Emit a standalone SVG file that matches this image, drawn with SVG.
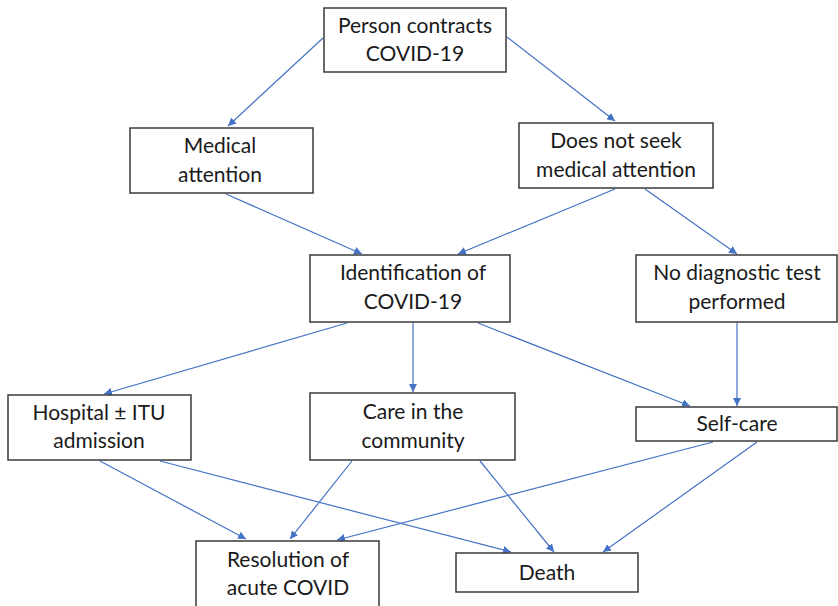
<svg xmlns="http://www.w3.org/2000/svg" width="838" height="606" viewBox="0 0 838 606">
<style>
.box{fill:#fff;stroke:#3a3a3a;stroke-width:1.5}
.t{font-family:Lato,"Liberation Sans",sans-serif;font-size:21px;fill:#1a1a1a;text-anchor:middle}
.c{stroke:#4472c4;stroke-width:1.2;fill:none;marker-end:url(#ah)}
</style>
<defs>
<marker id="ah" viewBox="0 0 10 10" refX="10" refY="5" markerWidth="8" markerHeight="8" markerUnits="userSpaceOnUse" orient="auto">
<path d="M0,0 L10,5 L0,10 z" fill="#4472c4"/>
</marker>
</defs>
<rect width="838" height="606" fill="#fff"/>
<g id="connectors">
<line class="c" x1="323" y1="38" x2="228" y2="126"/>
<line class="c" x1="507" y1="37" x2="615" y2="121"/>
<line class="c" x1="226" y1="194" x2="362" y2="254"/>
<line class="c" x1="615" y1="189" x2="458" y2="254"/>
<line class="c" x1="645" y1="189" x2="737" y2="254"/>
<line class="c" x1="347" y1="323" x2="104" y2="394"/>
<line class="c" x1="413" y1="323" x2="413" y2="392"/>
<line class="c" x1="478" y1="323" x2="690" y2="406"/>
<line class="c" x1="737" y1="323" x2="737" y2="406"/>
<line class="c" x1="100" y1="461" x2="246" y2="539"/>
<line class="c" x1="160" y1="461" x2="511" y2="552"/>
<line class="c" x1="352" y1="461" x2="290" y2="539"/>
<line class="c" x1="480" y1="461" x2="554" y2="552"/>
<line class="c" x1="713" y1="442" x2="337" y2="540"/>
<line class="c" x1="757" y1="442" x2="603" y2="552"/>
</g>
<g id="n1"><rect class="box" x="324" y="8" width="182" height="64"/><text class="t" x="415" y="33">Person contracts</text><text class="t" x="415" y="61">COVID-19</text></g>
<g id="n2"><rect class="box" x="130" y="128" width="183" height="65"/><text class="t" x="220" y="153">Medical</text><text class="t" x="220" y="182">attention</text></g>
<g id="n3"><rect class="box" x="519" y="123" width="194" height="65"/><text class="t" x="616" y="148">Does not seek</text><text class="t" x="616" y="177">medical attention</text></g>
<g id="n4"><rect class="box" x="310" y="255" width="200" height="67"/><text class="t" x="413" y="280">Identification of</text><text class="t" x="413" y="309">COVID-19</text></g>
<g id="n5"><rect class="box" x="636" y="255" width="201" height="67"/><text class="t" x="737" y="280">No diagnostic test</text><text class="t" x="737" y="309">performed</text></g>
<g id="n6"><rect class="box" x="8" y="395" width="183" height="65"/><text class="t" x="99" y="420">Hospital ± ITU</text><text class="t" x="99" y="448">admission</text></g>
<g id="n7"><rect class="box" x="310" y="393" width="205" height="67"/><text class="t" x="413" y="419">Care in the</text><text class="t" x="413" y="448">community</text></g>
<g id="n8"><rect class="box" x="636" y="407" width="201" height="34"/><text class="t" x="737" y="431">Self-care</text></g>
<g id="n9"><rect class="box" x="196" y="541" width="183" height="68"/><text class="t" x="288" y="567">Resolution of</text><text class="t" x="288" y="595">acute COVID</text></g>
<g id="n10"><rect class="box" x="456" y="553" width="182" height="39"/><text class="t" x="547" y="580">Death</text></g>
</svg>
